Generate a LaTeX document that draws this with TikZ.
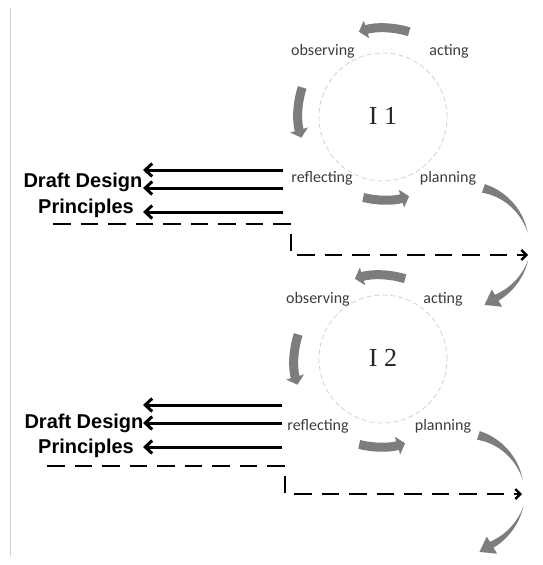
\documentclass[tikz,border=0pt]{standalone}
\usepackage{fontspec}
\newfontfamily\stagefont{Carlito}
\newfontfamily\draftfont{Liberation Sans}
\newfontfamily\iterfont{Liberation Serif}
\usetikzlibrary{arrows.meta,positioning}
\definecolor{cycGray}{RGB}{125,125,125}
\definecolor{labelGray}{RGB}{60,60,60}
\definecolor{ringGray}{RGB}{210,210,210}
\begin{document}
\begin{tikzpicture}[x=1pt, y=-1pt,
    stageStyle/.style={font=\stagefont\fontsize{16}{18}\selectfont, text=labelGray, anchor=base, inner sep=0pt},
    iterStyle/.style={font=\iterfont\fontsize{26}{28}\selectfont, text=black!85, anchor=base, inner sep=0pt},
    ringStyle/.style={circle, draw=ringGray, line width=0.8pt, dash pattern=on 5pt off 3pt, minimum size=128pt, inner sep=0pt},
    draftStyle/.style={font=\draftfont\bfseries\fontsize{20}{22}\selectfont, anchor=base, inner sep=0pt},
    cycStyle/.style={cycGray, line width=9pt, -{Triangle[width=18pt,length=8pt]}},
    backStyle/.style={black, line width=3pt, -{Straight Barb[length=7pt,width=13pt]}},
    splitStyle/.style={black, line width=2.4pt, dash pattern=on 17.5pt off 10pt, -{Straight Barb[length=5pt,width=10pt]}}]
    \useasboundingbox (0,0) rectangle (542,565);
    \draw[ringGray, line width=1pt] (10,8) -- (10,556);

    % iteration 1
    \node[ringStyle] (ring1) at (383,117) {};
    \node[iterStyle] (iter1) at (383,124) {I 1};
    \node[stageStyle] (obs1)  at (323,55)  {observing};
    \node[stageStyle] (act1)  at (449,55)  {acting};
    \node[stageStyle] (refl1) at (322,182) {reflecting};
    \node[stageStyle] (plan1) at (448,182) {planning};
    \coordinate (cyc1) at (384,114);
    \draw[cycStyle] ([shift={(-73:86)}]cyc1) arc[start angle=-73, end angle=-107, radius=86];
    \draw[cycStyle] ([shift={(-162:86)}]cyc1) arc[start angle=-162, end angle=-196, radius=86];
    \draw[cycStyle] ([shift={(-256:86)}]cyc1) arc[start angle=-256, end angle=-287, radius=86];

    \node[draftStyle] (draft1) at (83,187) {Draft Design};
    \node[draftStyle] (princ1) at (86,213) {Principles};
    \coordinate (fb1a) at (283,170); \coordinate (to1a) at (143,170);
    \coordinate (fb1b) at (283,188); \coordinate (to1b) at (143,188);
    \coordinate (fb1c) at (283,212); \coordinate (to1c) at (143,212);
    \draw[backStyle] (fb1a) -- (to1a);
    \draw[backStyle] (fb1b) -- (to1b);
    \draw[backStyle] (fb1c) -- (to1c);

    \coordinate (sp1a) at (53,224);
    \coordinate (sp1b) at (291,224);
    \coordinate (sp1c) at (291,255);
    \coordinate (sp1d) at (528,255);
    \draw[splitStyle] (sp1a) -- (sp1b) -- (sp1c) -- (sp1d);

    \fill[cycGray, shift={(465,245)}] plot[smooth, variable=\t, domain=72:11] ({64*cos(\t)},{-64*sin(\t)})
        -- plot[smooth, variable=\t, domain=11:72] ({(64-9*(\t-11)/61)*cos(\t)},{-(64-9*(\t-11)/61)*sin(\t)}) -- cycle;
    \fill[cycGray, shift={(465,245)}] plot[smooth, variable=\t, domain=-13:-59] ({65*cos(\t)},{-65*sin(\t)})
        -- ({72*cos(-59)},{-72*sin(-59)}) -- ({63*cos(-72)},{-63*sin(-72)}) -- ({52*cos(-59)},{-52*sin(-59)})
        -- plot[smooth, variable=\t, domain=-59:-13] ({(58+7*(\t+59)/46)*cos(\t)},{-(58+7*(\t+59)/46)*sin(\t)}) -- cycle;

    % iteration 2
    \node[ringStyle] (ring2) at (383,359) {};
    \node[iterStyle] (iter2) at (383,366) {I 2};
    \node[stageStyle] (obs2)  at (318,303) {observing};
    \node[stageStyle] (act2)  at (443,303) {acting};
    \node[stageStyle] (refl2) at (318,430) {reflecting};
    \node[stageStyle] (plan2) at (443,430) {planning};
    \coordinate (cyc2) at (380,361);
    \draw[cycStyle] ([shift={(-73:86)}]cyc2) arc[start angle=-73, end angle=-107, radius=86];
    \draw[cycStyle] ([shift={(-162:86)}]cyc2) arc[start angle=-162, end angle=-196, radius=86];
    \draw[cycStyle] ([shift={(-256:86)}]cyc2) arc[start angle=-256, end angle=-287, radius=86];

    \node[draftStyle] (draft2) at (84,428) {Draft Design};
    \node[draftStyle] (princ2) at (86,453) {Principles};
    \coordinate (fb2a) at (282,405); \coordinate (to2a) at (143,405);
    \coordinate (fb2b) at (282,423); \coordinate (to2b) at (143,423);
    \coordinate (fb2c) at (282,447); \coordinate (to2c) at (143,447);
    \draw[backStyle] (fb2a) -- (to2a);
    \draw[backStyle] (fb2b) -- (to2b);
    \draw[backStyle] (fb2c) -- (to2c);

    \coordinate (sp2a) at (47,466);
    \coordinate (sp2b) at (285,466);
    \coordinate (sp2c) at (285,494);
    \coordinate (sp2d) at (522,494);
    \draw[splitStyle] (sp2a) -- (sp2b) -- (sp2c) -- (sp2d);

    \fill[cycGray, shift={(460,492)}] plot[smooth, variable=\t, domain=72:11] ({64*cos(\t)},{-64*sin(\t)})
        -- plot[smooth, variable=\t, domain=11:72] ({(64-9*(\t-11)/61)*cos(\t)},{-(64-9*(\t-11)/61)*sin(\t)}) -- cycle;
    \fill[cycGray, shift={(460,492)}] plot[smooth, variable=\t, domain=-13:-59] ({65*cos(\t)},{-65*sin(\t)})
        -- ({72*cos(-59)},{-72*sin(-59)}) -- ({63*cos(-72)},{-63*sin(-72)}) -- ({52*cos(-59)},{-52*sin(-59)})
        -- plot[smooth, variable=\t, domain=-59:-13] ({(58+7*(\t+59)/46)*cos(\t)},{-(58+7*(\t+59)/46)*sin(\t)}) -- cycle;
\end{tikzpicture}
\end{document}
